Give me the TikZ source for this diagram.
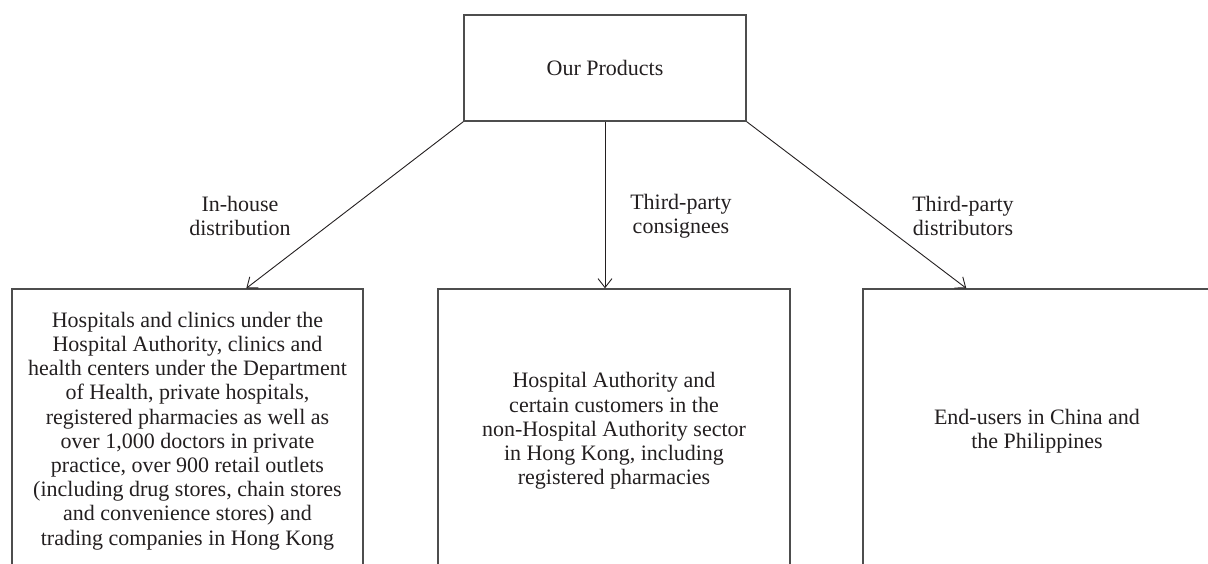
\documentclass[tikz,border=0pt]{standalone}
\usepackage{fontspec}
\setmainfont{Liberation Serif}
\usetikzlibrary{arrows.meta}
\definecolor{ink}{HTML}{231F20}
\definecolor{boxline}{HTML}{4D4D4D}
\tikzset{
  txt/.style={font=\fontsize{22}{24.2}\selectfont, text=ink, align=center, inner sep=0pt},
  pbox/.style={draw=boxline, line width=1.4pt, txt, anchor=center},
  arr/.style={draw=ink, line width=0.9pt, -{Straight Barb[length=9pt,width=14pt,line width=0.9pt]}},
}
\begin{document}
\begin{tikzpicture}[x=1pt,y=-1pt]
\useasboundingbox (0,0) rectangle (1208,564);
\clip (0,0) rectangle (1208,564);
\node[pbox, minimum width=282pt, minimum height=106pt] (top) at (605,68) {Our Products};
\node[pbox, minimum width=351pt, minimum height=284pt] (left) at (187.5,431) {Hospitals and clinics under the\\Hospital Authority, clinics and\\health centers under the Department\\of Health, private hospitals,\\registered pharmacies as well as\\over 1,000 doctors in private\\practice, over 900 retail outlets\\(including drug stores, chain stores\\and convenience stores) and\\trading companies in Hong Kong};
\node[pbox, minimum width=352pt, minimum height=284pt] (mid) at (614,431) {Hospital Authority and\\certain customers in the\\non-Hospital Authority sector\\in Hong Kong, including\\registered pharmacies};
\node[pbox, minimum width=348pt, minimum height=284pt] (right) at (1037,431) {End-users in China and\\the Philippines};
\draw[arr] (top.south west) -- ([xshift=235pt]left.north west);
\draw[arr] (top.south) -- (top.south |- mid.north);
\draw[arr] (top.south east) -- ([xshift=104pt]right.north west);
\node[txt] (l1) at (240,216) {In-house\\distribution};
\node[txt] (l2) at (681,216) {Third-party\\consignees};
\node[txt] (l3) at (963,216) {Third-party\\distributors};
\end{tikzpicture}
\end{document}
